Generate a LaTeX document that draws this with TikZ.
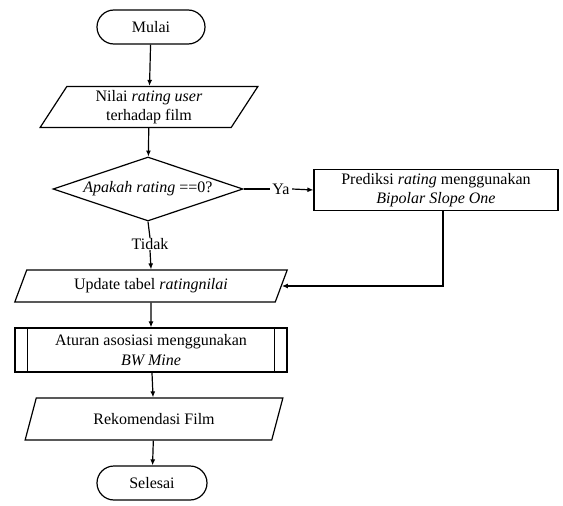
\documentclass[tikz,border=0pt]{standalone}
\usepackage{fontspec}
\setmainfont{Liberation Serif}
\usetikzlibrary{shapes.geometric,shapes.misc,arrows.meta}
\begin{document}
\begin{tikzpicture}[x=1pt,y=-1pt,
  every node/.style={font=\fontsize{16}{19.5}\selectfont, align=center, inner sep=0pt},
  terminal/.style={draw, rounded rectangle, minimum width=108pt, minimum height=34pt},
  io/.style={draw, trapezium, trapezium left angle=63, trapezium right angle=117, trapezium stretches=true},
  decision/.style={draw, diamond, aspect=3, minimum width=190pt, minimum height=64pt},
  process/.style={draw, rectangle},
  arr/.style={-{Latex[length=6pt,width=5pt]}},
  line width=1.2pt]
\useasboundingbox (0,0) rectangle (563,506);
\node[terminal] (mulai) at (151,27) {Mulai};
\node[io, minimum width=218pt, minimum height=41pt] (p1) at (149,107) {Nilai \emph{rating user}\\terhadap film};
\node[decision] (d) at (148,189) {\emph{Apakah rating} ==0?};
\node (ya) at (281,189) {Ya};
\node[process, minimum width=244pt, minimum height=41pt] (pred) at (436,190) {Prediksi \emph{rating} menggunakan\\\emph{Bipolar Slope One}};
\node (tidak) at (150,244) {Tidak};
\node[io, minimum width=273pt, minimum height=32pt] (p2) at (151,286) {Update tabel \emph{ratingnilai}};
\node[process, minimum width=272pt, minimum height=44pt] (proc) at (151,350) {Aturan asosiasi menggunakan\\\emph{BW Mine}};
\draw ([xshift=13pt]proc.north west) -- ([xshift=13pt]proc.south west);
\draw ([xshift=-13pt]proc.north east) -- ([xshift=-13pt]proc.south east);
\node[io, minimum width=258pt, minimum height=42pt] (p3) at (154,419) {Rekomendasi Film};
\node[terminal, minimum width=110pt] (selesai) at (152,483) {Selesai};
\draw[arr] (mulai) -- (p1);
\draw[arr] (p1) -- (d);
\draw (d.east) -- ([xshift=-2pt]ya.west);
\draw[arr] ([xshift=2pt]ya.east) -- (pred.west);
\draw (d.south) -- (tidak.north);
\draw[arr] (tidak.south) -- (p2.north);
\draw[arr] ([xshift=7pt]pred.south) |- (p2.east);
\draw[arr] (p2) -- (proc);
\draw[arr] (proc) -- (p3);
\draw[arr] (p3) -- (selesai);
\end{tikzpicture}
\end{document}
